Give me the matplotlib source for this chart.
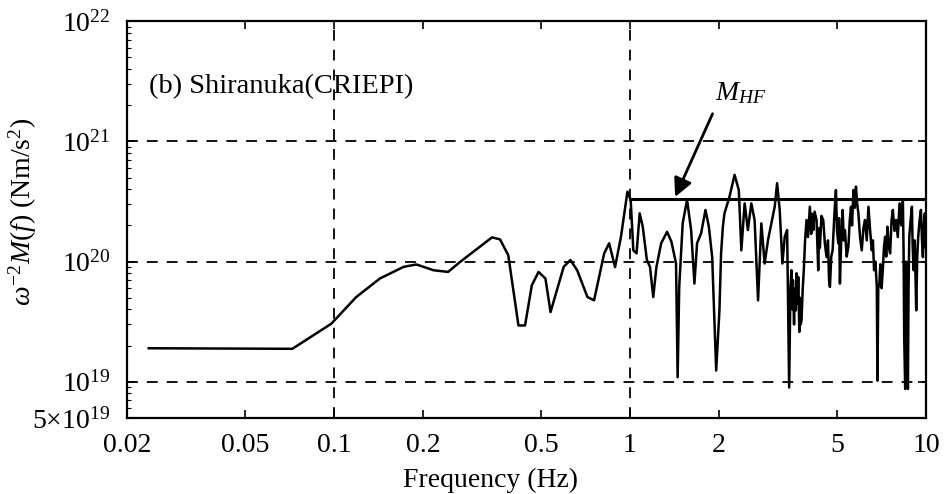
import numpy as np
import matplotlib
matplotlib.use("Agg")
import matplotlib.pyplot as plt
from matplotlib.ticker import FixedLocator, NullFormatter

plt.rcParams['font.family'] = ['Liberation Serif', 'DejaVu Serif']
plt.rcParams['mathtext.fontset'] = 'custom'
plt.rcParams['mathtext.rm'] = 'Liberation Serif'
plt.rcParams['mathtext.it'] = 'Liberation Serif:italic'

# spectrum (Hz, Nm/s^2), smooth part up to ~3.4 Hz
freq_lo = [0.0237, 0.0724, 0.098, 0.119, 0.143, 0.172, 0.190, 0.217, 0.243, 0.267,
           0.342, 0.364, 0.388, 0.42, 0.442, 0.466, 0.491, 0.518, 0.539, 0.597,
           0.629, 0.663, 0.718, 0.756, 0.818, 0.85, 0.89, 0.932, 0.98, 1.005,
           1.026, 1.052, 1.078, 1.104, 1.14, 1.168, 1.198, 1.228, 1.274, 1.334,
           1.38, 1.43, 1.448, 1.466, 1.506, 1.558, 1.608, 1.65, 1.684, 1.738,
           1.798, 1.846, 1.894, 1.954, 2.004, 2.03, 2.058, 2.084, 2.168, 2.254,
           2.33, 2.376, 2.438, 2.50, 2.568, 2.634, 2.706, 2.776, 2.848, 2.924,
           3.002, 3.08, 3.138, 3.202, 3.27, 3.33, 3.392]
moment_lo = [1.9e19, 1.88e19, 3.04e19, 5.07e19, 7.23e19, 9.04e19, 9.46e19, 8.47e19, 8.2e19, 9.95e19,
             1.59e20, 1.53e20, 1.13e20, 2.94e19, 2.94e19, 6.35e19, 8.2e19, 7.23e19, 3.8e19, 9.04e19,
             1.03e20, 8.47e19, 5.07e19, 4.76e19, 1.17e20, 1.42e20, 9.0e19, 1.61e20, 3.82e20, 3.26e20,
             1.24e20, 1.17e20, 2.52e20, 1.95e20, 1.03e20, 9.04e19, 5.07e19, 9.04e19, 1.42e20, 1.77e20,
             1.46e20, 9.64e19, 1.09e19, 6.15e19, 2.08e20, 3.26e20, 1.83e20, 6.56e19, 1.42e20, 1.72e20,
             2.69e20, 1.95e20, 1.09e20, 1.24e19, 3.93e19, 1.17e20, 1.95e20, 2.52e20, 3.48e20, 5.27e20,
             3.94e20, 1.24e20, 3.05e20, 1.83e20, 3.05e20, 2.22e20, 4.76e19, 2.08e20, 9.64e19, 1.51e20,
             2.08e20, 2.86e20, 4.49e20, 2.69e20, 9.64e19, 1.61e20, 1.83e20]

# dense, noisy part above ~3.4 Hz
freq_hf = [3.446, 3.48, 3.508, 3.53, 3.55, 3.58, 3.6, 3.63, 3.65, 3.68,
           3.698, 3.73, 3.75, 3.77, 3.794, 3.83, 3.862, 3.90, 3.944, 3.99,
           4.048, 4.09, 4.12, 4.156, 4.2, 4.264, 4.32, 4.35, 4.376, 4.43,
           4.492, 4.55, 4.61, 4.66, 4.70, 4.732, 4.78, 4.832, 4.9, 4.958,
           5.0, 5.05, 5.08, 5.114, 5.17, 5.224, 5.27, 5.318, 5.39, 5.462,
           5.52, 5.574, 5.62, 5.68, 5.74, 5.794, 5.85, 5.904, 5.98, 6.06,
           6.14, 6.216, 6.3, 6.384, 6.47, 6.552, 6.61, 6.67, 6.74, 6.812,
           6.848, 6.89, 6.95, 7.0, 7.07, 7.138, 7.2, 7.268, 7.33, 7.4,
           7.48, 7.558, 7.64, 7.718, 7.82, 7.918, 8.02, 8.132, 8.24, 8.344,
           8.39, 8.43, 8.496, 8.55, 8.6, 8.676, 8.72, 8.77, 8.86, 8.95,
           9.0, 9.07, 9.15, 9.256, 9.33, 9.4, 9.5, 9.602, 9.68, 9.75,
           9.82, 9.9, 9.95, 10.0]
moment_hf = [8.97e18, 6e19, 8.47e19, 4e19, 7e19, 3.0e19, 6e19, 3.93e19, 8e19, 4.5e19,
             7.45e19, 2.6e19, 5e19, 3.0e19, 3.24e19, 6e19, 8.47e19, 1.5e20, 2.22e20, 1.6e20,
             2.86e20, 1.7e20, 2.5e20, 1.83e20, 2.6e20, 2.22e20, 8.47e19, 1.9e20, 1.3e20, 2.4e20,
             2.22e20, 1.4e20, 1.09e20, 1.5e20, 7e19, 6.15e19, 1.1e20, 1.24e20, 2.5e20, 3.94e20,
             1.8e20, 1.42e20, 2.3e20, 6.56e19, 1.6e20, 2.69e20, 1.5e20, 1.83e20, 1.1e20, 1.33e20,
             2.2e20, 2.86e20, 2.0e20, 3.94e20, 2.8e20, 4.21e20, 3.0e20, 2.52e20, 1.6e20, 1.24e20,
             1.9e20, 2.22e20, 1.5e20, 2.86e20, 1.8e20, 1.24e20, 1.5e20, 8.47e19, 1.0e20, 6.15e19,
             1.02e19, 6e19, 6.56e19, 9.5e19, 6e19, 8.47e19, 1.3e20, 1.61e20, 1.1e20, 1.95e20,
             1.3e20, 1.17e20, 2.2e20, 2.69e20, 1.8e20, 2.22e20, 1.6e20, 3.05e20, 2.0e20, 3.26e20,
             1.2e20, 2.35e19, 8.7e18, 1.0e20, 4.47e19, 8.7e18, 6e19, 1.61e20, 2.2e20, 2.86e20,
             1.4e20, 8.47e19, 1.5e20, 3.93e19, 1.1e20, 1.61e20, 2.2e20, 2.69e20, 1.5e20, 1.09e20,
             2.0e20, 2.52e20, 1.3e20, 1.42e20]

# high-frequency level M_HF
mhf_freq = [1.0, 10.0]
mhf_level = 3.3e20

xticks = [0.02, 0.05, 0.1, 0.2, 0.5, 1, 2, 5, 10]
xticklabels = ['0.02', '0.05', '0.1', '0.2', '0.5', '1', '2', '5', '10']
yticks = [5e18, 1e19, 1e20, 1e21, 1e22]
yticklabels = [r'5$\times$10$^{19}$', r'10$^{19}$', r'10$^{20}$', r'10$^{21}$', r'10$^{22}$']

fig = plt.figure(figsize=(9.47, 4.94), dpi=100)
ax = fig.add_axes([0.134, 0.154, 0.844, 0.803])

ax.set_xscale('log')
ax.set_yscale('log')
ax.set_xlim(0.02, 10)
ax.set_ylim(5e18, 1e22)

# dashed reference lines
for yv in [1e19, 1e20, 1e21]:
    ax.axhline(yv, color='k', lw=1.3, dashes=(6, 5), zorder=1)
for xv in [0.1, 1]:
    ax.axvline(xv, color='k', lw=1.3, dashes=(6, 5), zorder=1)

ax.plot(freq_lo + freq_hf, moment_lo + moment_hf, color='k', lw=1.8, zorder=3)
ax.plot(mhf_freq, [mhf_level, mhf_level], color='k', lw=2.2, zorder=4)

ax.annotate('', xy=(1.42, 3.45e20), xytext=(1.90, 1.7e21),
            arrowprops=dict(arrowstyle='-|>', color='k', lw=2.0,
                            mutation_scale=28, shrinkA=0, shrinkB=0))
ax.text(2.36, 2.5e21, r'$M_{HF}$', fontsize=20, ha='center', va='center')

ax.text(0.028, 0.835, '(b) Shiranuka(CRIEPI)', transform=ax.transAxes,
        fontsize=20.5, ha='left', va='center')

ax.xaxis.set_major_locator(FixedLocator(xticks))
ax.set_xticklabels(xticklabels)
ax.xaxis.set_minor_locator(FixedLocator([]))
ax.yaxis.set_major_locator(FixedLocator(yticks))
ax.set_yticklabels(yticklabels)
ax.yaxis.set_minor_formatter(NullFormatter())

ax.tick_params(axis='both', which='major', direction='in', length=6, width=1.2,
               labelsize=20, top=True, right=True)
ax.tick_params(axis='x', which='major', pad=11)
ax.tick_params(axis='y', which='major', pad=12)
ax.tick_params(axis='y', which='minor', direction='in', length=3, width=0.8,
               left=True, right=False)

for sp in ax.spines.values():
    sp.set_linewidth(1.6)

ax.set_xlabel('Frequency (Hz)', fontsize=20)
ax.set_ylabel(r'$\omega^{-2}M(f)$ (Nm/s$^2$)', fontsize=20)
ax.xaxis.set_label_coords(0.455, -0.125)
ax.yaxis.set_label_coords(-0.11, 0.52)

fig.savefig('out.png', dpi=100)
